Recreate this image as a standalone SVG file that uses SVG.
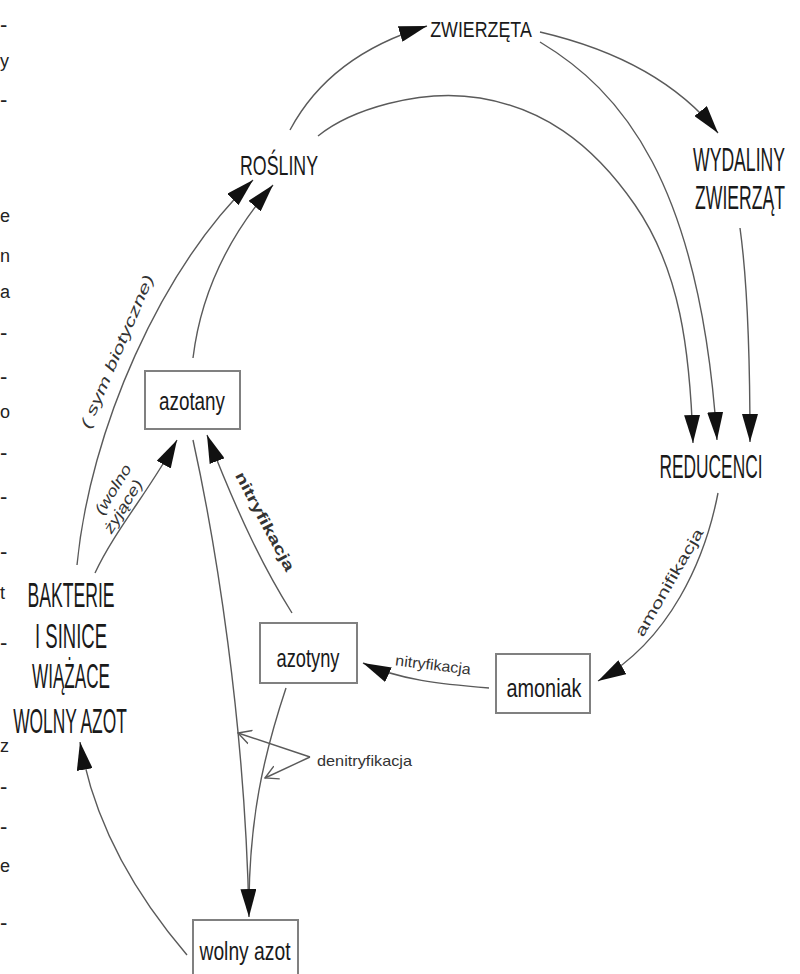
<svg xmlns="http://www.w3.org/2000/svg" width="800" height="974" viewBox="0 0 800 974">
<defs>
<style>
.ln{fill:none;stroke:#5a5a5a;stroke-width:1.4}
.hd{font-family:"Liberation Sans",Arial,sans-serif;fill:#1a1a1a;text-anchor:middle}
.bx{fill:#fff;stroke:#808080;stroke-width:2}
.bt{font-family:"Liberation Sans",Arial,sans-serif;font-size:25px;fill:#1a1a1a;text-anchor:middle}
.lb{font-family:"Liberation Sans",Arial,sans-serif;font-size:15px;fill:#333}
.ed{font-family:"Liberation Sans",Arial,sans-serif;font-size:18px;fill:#222}
.eh{font-family:"Liberation Sans",Arial,sans-serif;font-size:22px;fill:#222}
</style>
<marker id="ah" markerUnits="userSpaceOnUse" viewBox="0 0 28 16" markerWidth="28" markerHeight="16" refX="28" refY="8" orient="auto">
<path d="M0,0 L28,8 L0,16 Z" fill="#111"/>
</marker>
<marker id="oa" markerUnits="userSpaceOnUse" viewBox="0 0 14 16" markerWidth="14" markerHeight="16" refX="13" refY="8" orient="auto">
<path d="M0,1 L13,8 L0,15" fill="none" stroke="#5a5a5a" stroke-width="1.4"/>
</marker>
</defs>
<rect width="800" height="974" fill="#fff"/>

<g id="edge-fragments">
<text class="eh" x="0" y="32">-</text>
<text class="ed" x="0" y="67">y</text>
<text class="eh" x="0" y="107">-</text>
<text class="ed" x="0" y="222">e</text>
<text class="ed" x="0" y="262">n</text>
<text class="ed" x="0" y="298">a</text>
<text class="eh" x="0" y="340">-</text>
<text class="eh" x="0" y="384">-</text>
<text class="ed" x="0" y="418">o</text>
<text class="eh" x="0" y="460">-</text>
<text class="eh" x="0" y="504">-</text>
<text class="eh" x="0" y="559">-</text>
<text class="ed" x="0" y="599">t</text>
<text class="eh" x="0" y="650">-</text>
<text class="ed" x="0" y="752">z</text>
<text class="eh" x="0" y="794">-</text>
<text class="eh" x="0" y="834">-</text>
<text class="ed" x="0" y="872">e</text>
<text class="eh" x="0" y="930">-</text>
</g>

<g id="connectors">
<path class="ln" d="M290,130 Q330,55 427,26" marker-end="url(#ah)"/>
<path class="ln" d="M318,136 C350,110 420,88 480,98 S590,140 635,205 S690,350 693,443" marker-end="url(#ah)"/>
<path class="ln" d="M540,32 Q660,60 718,133" marker-end="url(#ah)"/>
<path class="ln" d="M540,42 C620,90 700,180 717,440" marker-end="url(#ah)"/>
<path class="ln" d="M740,228 Q750,300 750,442" marker-end="url(#ah)"/>
<path class="ln" d="M718,493 C705,560 670,640 598,681" marker-end="url(#ah)"/>
<path class="ln" d="M489,688 C440,684 400,680 363,663" marker-end="url(#ah)"/>
<path class="ln" d="M292,613 C265,570 240,520 207,435" marker-end="url(#ah)"/>
<path class="ln" d="M286,688 C262,760 250,820 249,900"/>
<path class="ln" d="M193,440 C215,540 245,720 249,917" marker-end="url(#ah)"/>
<path class="ln" d="M187,955 C140,900 95,830 80,742" marker-end="url(#ah)"/>
<path class="ln" d="M77,565 C90,430 160,270 253,180" marker-end="url(#ah)"/>
<path class="ln" d="M193,358 C200,300 225,240 273,185" marker-end="url(#ah)"/>
<path class="ln" d="M95,573 C115,530 150,490 177,440" marker-end="url(#ah)"/>
<path class="ln" d="M310,757 L238,733" marker-end="url(#oa)"/>
<path class="ln" d="M310,757 L265,778" marker-end="url(#oa)"/>
<text class="lb" font-style="italic" transform="translate(118,352) rotate(-67)" text-anchor="middle" dominant-baseline="middle" textLength="165" lengthAdjust="spacingAndGlyphs">( sym biotyczne)</text>
<text class="lb" font-style="italic" font-size="16" transform="translate(114,490) rotate(-58)" text-anchor="middle" dominant-baseline="middle" textLength="56" lengthAdjust="spacingAndGlyphs">(wolno</text>
<text class="lb" font-style="italic" font-size="16" transform="translate(124,507) rotate(-58)" text-anchor="middle" dominant-baseline="middle" textLength="60" lengthAdjust="spacingAndGlyphs">żyjące)</text>
<text class="lb" font-weight="bold" transform="translate(264,522) rotate(62)" text-anchor="middle" dominant-baseline="middle" textLength="110" lengthAdjust="spacingAndGlyphs">nitryfikacja</text>
<text class="lb" transform="translate(433,666) rotate(7)" text-anchor="middle" dominant-baseline="middle" textLength="76" lengthAdjust="spacingAndGlyphs">nitryfikacja</text>
<text class="lb" transform="translate(670,583) rotate(-60)" text-anchor="middle" dominant-baseline="middle" textLength="122" lengthAdjust="spacingAndGlyphs">amonifikacja</text>
<text class="lb" x="317" y="766" font-size="17" textLength="95" lengthAdjust="spacingAndGlyphs">denitryfikacja</text>
</g>

<g id="zwierzeta">
<text class="hd" font-size="22" transform="translate(481,37) scale(0.81,1)">ZWIERZĘTA</text>
</g>
<g id="rosliny">
<text class="hd" font-size="28" transform="translate(279,175) scale(0.635,1)">ROŚLINY</text>
</g>
<g id="wydaliny">
<text class="hd" font-size="34" transform="translate(739,171) scale(0.518,1)">WYDALINY</text>
<text class="hd" font-size="34" transform="translate(740,209) scale(0.518,1)">ZWIERZĄT</text>
</g>
<g id="reducenci">
<text class="hd" font-size="34" transform="translate(711,478) scale(0.51,1)">REDUCENCI</text>
</g>
<g id="bakterie">
<text class="hd" font-size="35" transform="translate(71,607) scale(0.503,1)">BAKTERIE</text>
<text class="hd" font-size="35" transform="translate(71,648) scale(0.529,1)">I SINICE</text>
<text class="hd" font-size="35" transform="translate(71,688) scale(0.489,1)">WIĄŻACE</text>
<text class="hd" font-size="35" transform="translate(70,733) scale(0.497,1)">WOLNY AZOT</text>
</g>
<g id="azotany">
<rect class="bx" x="145" y="371" width="95" height="58"/>
<text class="bt" x="192" y="410" textLength="66" lengthAdjust="spacingAndGlyphs">azotany</text>
</g>
<g id="azotyny">
<rect class="bx" x="260" y="623" width="97" height="60"/>
<text class="bt" x="308" y="667" textLength="63" lengthAdjust="spacingAndGlyphs">azotyny</text>
</g>
<g id="amoniak">
<rect class="bx" x="496" y="654" width="94" height="59"/>
<text class="bt" x="544" y="697" textLength="75" lengthAdjust="spacingAndGlyphs">amoniak</text>
</g>
<g id="wolny-azot">
<rect class="bx" x="193" y="920" width="105" height="62"/>
<text class="bt" x="245" y="960" textLength="91" lengthAdjust="spacingAndGlyphs">wolny azot</text>
</g>
</svg>
